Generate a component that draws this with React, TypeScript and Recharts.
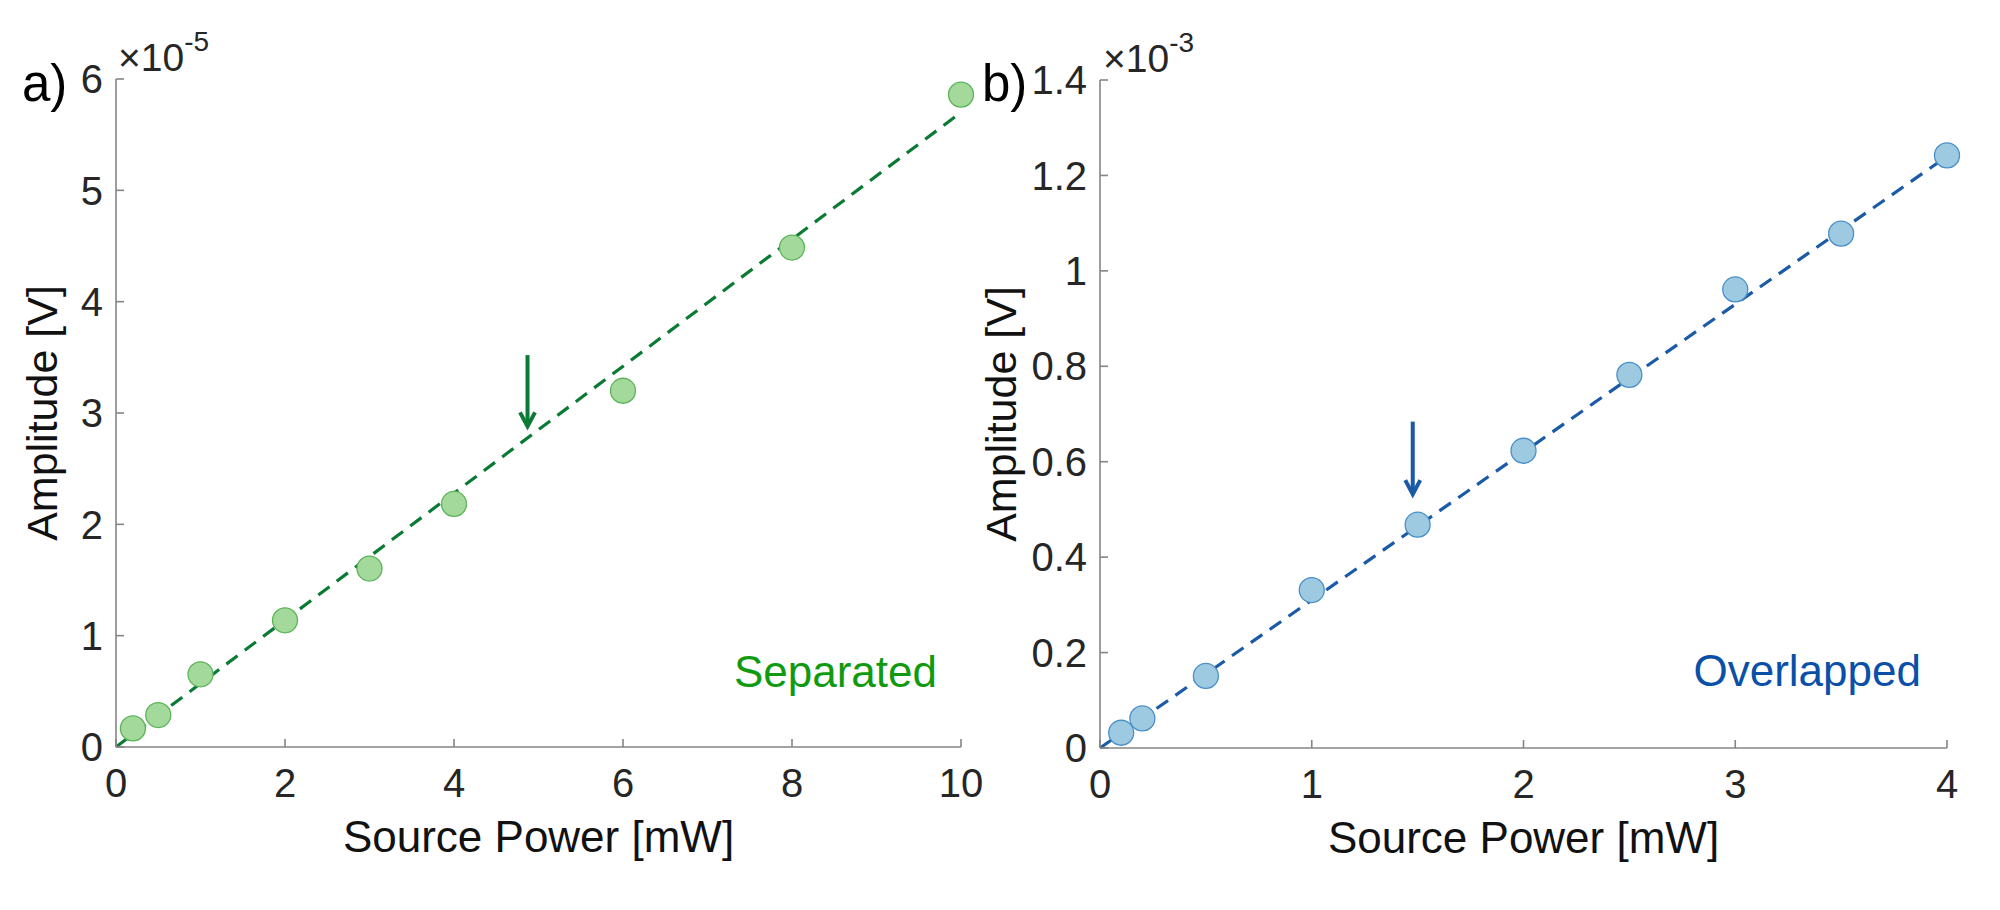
import React from 'react';
import { ComposedChart, Scatter, Line, XAxis, YAxis, ReferenceLine, ReferenceDot } from 'recharts';

// panel a) separated
const powerSeparated = [0.2, 0.5, 1, 2, 3, 4, 6, 8, 10];
const ampSeparated = [0.167, 0.287, 0.653, 1.138, 1.603, 2.183, 3.2, 4.486, 5.86];
const fitSeparatedX = [0, 10];
const fitSeparatedY = [0, 5.7];
const arrowSeparated = { x: 4.87, top: 3.52, tip: 2.88 };
const xTicksSeparated = [0, 2, 4, 6, 8, 10];
const yTicksSeparated = [0, 1, 2, 3, 4, 5, 6];

// panel b) overlapped
const powerOverlapped = [0.1, 0.2, 0.5, 1, 1.5, 2, 2.5, 3, 3.5, 4];
const ampOverlapped = [0.032, 0.062, 0.151, 0.331, 0.468, 0.623, 0.782, 0.961, 1.078, 1.242];
const fitOverlappedX = [0, 4];
const fitOverlappedY = [0, 1.24];
const arrowOverlapped = { x: 1.477, top: 0.684, tip: 0.532 };
const xTicksOverlapped = [0, 1, 2, 3, 4];
const yTicksOverlapped = [0, 0.2, 0.4, 0.6, 0.8, 1, 1.2, 1.4];

const FONT = '"Liberation Sans", Arial, Helvetica, sans-serif';
const AXIS = '#858585';
const TICK_TEXT = '#262626';

const zip = (xs: number[], ys: number[]) => xs.map((x, i) => ({ x, y: ys[i] }));

interface PanelProps {
  left: number;
  width: number;
  top: number;
  plotLeft: number;
  plotRight: number;
  plotBottom: number;
  points: { x: number; y: number }[];
  fit: { x: number; y: number }[];
  arrow: { x: number; top: number; tip: number };
  xTicks: number[];
  yTicks: number[];
  labelOffset: number;
  tag: string;
  tagPos: { x: number; y: number };
  lineColor: string;
  fill: string;
  edge: string;
  tagColor: string;
}

function Panel(p: PanelProps) {
  const xMax = p.xTicks[p.xTicks.length - 1];
  const yMax = p.yTicks[p.yTicks.length - 1];
  const yAxisW = 100;
  const xAxisH = 60;
  return (
    <div style={{ position: 'absolute', left: p.left, top: 0 }}>
      <ComposedChart
        width={p.width}
        height={910}
        margin={{
          top: p.top,
          right: p.width - p.plotRight,
          bottom: 910 - p.plotBottom - xAxisH,
          left: p.plotLeft - yAxisW,
        }}
      >
        <XAxis
          dataKey="x"
          type="number"
          domain={[0, xMax]}
          ticks={p.xTicks}
          height={xAxisH}
          tickSize={-8}
          tickMargin={30}
          stroke={AXIS}
          strokeWidth={1.6}
          tick={{ fontSize: 40, fill: TICK_TEXT }}
          label={{ value: 'Source Power [mW]', position: 'bottom', offset: 14, fontSize: 44, fill: '#111' }}
        />
        <XAxis
          xAxisId="top"
          orientation="top"
          dataKey="x"
          type="number"
          domain={[0, xMax]}
          ticks={p.xTicks}
          height={0}
          tickSize={-8}
          stroke={AXIS}
          strokeWidth={1.6}
          tick={false}
        />
        <YAxis
          dataKey="y"
          type="number"
          domain={[0, yMax]}
          ticks={p.yTicks}
          width={yAxisW}
          tickSize={-8}
          tickMargin={21}
          stroke={AXIS}
          strokeWidth={1.6}
          tick={{ fontSize: 40, fill: TICK_TEXT }}
          label={{
            value: 'Amplitude [V]',
            content: (props: any) => {
              const vb = props.viewBox || {};
              const cx = vb.x + p.labelOffset;
              const cy = vb.y + vb.height / 2;
              return (
                <text
                  x={cx}
                  y={cy}
                  dy="0.355em"
                  transform={`rotate(-90 ${cx} ${cy})`}
                  textAnchor="middle"
                  fontSize={43}
                  fill="#111"
                >
                  Amplitude [V]
                </text>
              );
            },
          }}
        />
        <YAxis
          yAxisId="right"
          orientation="right"
          dataKey="y"
          type="number"
          domain={[0, yMax]}
          ticks={p.yTicks}
          width={0}
          tickSize={-8}
          stroke={AXIS}
          strokeWidth={1.6}
          tick={false}
        />
        <Scatter
          data={p.points}
          dataKey="y"
          isAnimationActive={false}
          shape={(s: any) => (
            <circle cx={s.cx} cy={s.cy} r={12.5} fill={p.fill} stroke={p.edge} strokeWidth={1.3} />
          )}
        />
        <Line
          data={p.fit}
          dataKey="y"
          type="linear"
          stroke={p.lineColor}
          strokeWidth={3.2}
          strokeDasharray="14 9"
          dot={false}
          activeDot={false}
          isAnimationActive={false}
        />
        <ReferenceLine
          segment={[
            { x: p.arrow.x, y: p.arrow.top },
            { x: p.arrow.x, y: p.arrow.tip },
          ]}
          stroke={p.lineColor}
          strokeWidth={4}
        />
        <ReferenceDot
          x={p.arrow.x}
          y={p.arrow.tip}
          r={1}
          shape={(s: any) => (
            <path
              d={`M${s.cx - 7.5},${s.cy - 14} L${s.cx},${s.cy} L${s.cx + 7.5},${s.cy - 14}`}
              fill="none"
              stroke={p.lineColor}
              strokeWidth={4}
            />
          )}
        />
        <ReferenceDot
          x={p.tagPos.x}
          y={p.tagPos.y}
          r={1}
          shape={(s: any) => (
            <text x={s.cx} y={s.cy} textAnchor="end" fontSize={44} fill={p.tagColor}>
              {p.tag}
            </text>
          )}
        />
      </ComposedChart>
    </div>
  );
}

export default function App() {
  return (
    <div
      style={{
        position: 'absolute',
        left: 0,
        top: 0,
        width: 2000,
        height: 910,
        background: '#fff',
        fontFamily: FONT,
        overflow: 'hidden',
      }}
    >
      <Panel
        left={0}
        width={1000}
        top={79}
        plotLeft={116}
        plotRight={961}
        plotBottom={747}
        points={zip(powerSeparated, ampSeparated)}
        fit={zip(fitSeparatedX, fitSeparatedY)}
        arrow={arrowSeparated}
        xTicks={xTicksSeparated}
        yTicks={yTicksSeparated}
        labelOffset={26}
        tag="Separated"
        tagPos={{ x: 9.716, y: 0.539 }}
        lineColor="#0b7a35"
        fill="#a3d99b"
        edge="#5cb45a"
        tagColor="#109a10"
      />
      <Panel
        left={970}
        width={1030}
        top={80}
        plotLeft={130}
        plotRight={977}
        plotBottom={748}
        points={zip(powerOverlapped, ampOverlapped)}
        fit={zip(fitOverlappedX, fitOverlappedY)}
        arrow={arrowOverlapped}
        xTicks={xTicksOverlapped}
        yTicks={yTicksOverlapped}
        labelOffset={1}
        tag="Overlapped"
        tagPos={{ x: 3.877, y: 0.13 }}
        lineColor="#1a5aa6"
        fill="#9ecae1"
        edge="#4a8fc8"
        tagColor="#0a50a8"
      />
      <svg
        width={2000}
        height={910}
        style={{ position: 'absolute', left: 0, top: 0, pointerEvents: 'none' }}
      >
        <text x={22} y={101} fontSize={51} fill="#000">a)</text>
        <text x={982} y={101} fontSize={51} fill="#000">b)</text>
        <text x={118} y={71} fontSize={39} fill={TICK_TEXT}>
          ×10<tspan dy={-20} fontSize={28}>-5</tspan>
        </text>
        <text x={1103} y={72} fontSize={39} fill={TICK_TEXT}>
          ×10<tspan dy={-20} fontSize={28}>-3</tspan>
        </text>
      </svg>
    </div>
  );
}
